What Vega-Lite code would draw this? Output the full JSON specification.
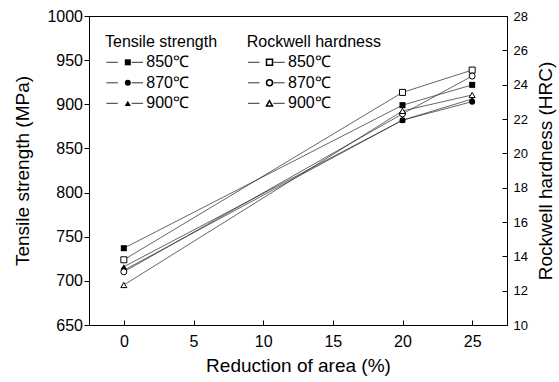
{
  "$schema": "https://vega.github.io/schema/vega-lite/v6.json",
  "width": 418,
  "height": 309,
  "autosize": {"type": "none"},
  "padding": {"left": 89, "top": 16, "right": 52, "bottom": 57},
  "background": "white",
  "config": {
    "font": "Liberation Sans",
    "view": {"stroke": "#000", "strokeWidth": 1},
    "axis": {
      "grid": false,
      "domainColor": "#000",
      "tickColor": "#000",
      "labelColor": "#000",
      "titleColor": "#000",
      "labelFont": "Liberation Sans",
      "titleFont": "Liberation Sans",
      "titleFontWeight": "normal",
      "labelFontSize": 16,
      "titleFontSize": 19,
      "tickSize": 5
    },
    "legend": {
      "orient": "none",
      "padding": 0,
      "titleFont": "Liberation Sans",
      "labelFont": "Liberation Sans",
      "titleFontSize": 16,
      "labelFontSize": 16,
      "titleFontWeight": "normal",
      "titleColor": "#000",
      "labelColor": "#000",
      "titlePadding": 4.6,
      "rowPadding": 4.5,
      "symbolSize": 36,
      "symbolOffset": 14.8,
      "labelOffset": 10.5
    }
  },
  "datasets": {
    "tensile": [
      {"reduction": 0, "temperature": "850℃", "strength": 737},
      {"reduction": 20, "temperature": "850℃", "strength": 899},
      {"reduction": 25, "temperature": "850℃", "strength": 922},
      {"reduction": 0, "temperature": "870℃", "strength": 712},
      {"reduction": 20, "temperature": "870℃", "strength": 882},
      {"reduction": 25, "temperature": "870℃", "strength": 903},
      {"reduction": 0, "temperature": "900℃", "strength": 716},
      {"reduction": 20, "temperature": "900℃", "strength": 882},
      {"reduction": 25, "temperature": "900℃", "strength": 906}
    ],
    "hardness": [
      {"reduction": 0, "temperature": "850℃", "hrc": 13.8},
      {"reduction": 20, "temperature": "850℃", "hrc": 23.55},
      {"reduction": 25, "temperature": "850℃", "hrc": 24.85},
      {"reduction": 0, "temperature": "870℃", "hrc": 13.1},
      {"reduction": 20, "temperature": "870℃", "hrc": 22.3},
      {"reduction": 25, "temperature": "870℃", "hrc": 24.5},
      {"reduction": 0, "temperature": "900℃", "hrc": 12.33},
      {"reduction": 20, "temperature": "900℃", "hrc": 22.47},
      {"reduction": 25, "temperature": "900℃", "hrc": 23.4}
    ]
  },
  "layer": [
    {
      "data": {"name": "tensile"},
      "encoding": {
        "x": {
          "field": "reduction",
          "type": "quantitative",
          "scale": {"domain": [-2.5, 27.5], "nice": false, "zero": false},
          "axis": {
            "values": [0, 5, 10, 15, 20, 25],
            "title": "Reduction of area (%)",
            "tickSize": -5,
            "labelPadding": 13,
            "titleX": 209,
            "titleY": 40,
            "titleBaseline": "middle",
            "titleAlign": "center"
          }
        },
        "y": {
          "field": "strength",
          "type": "quantitative",
          "scale": {"domain": [650, 1000], "nice": false, "zero": false},
          "axis": {
            "orient": "left",
            "values": [650, 700, 750, 800, 850, 900, 950, 1000],
            "format": "d",
            "title": "Tensile strength (MPa)",
            "labelPadding": 1.5,
            "titleAngle": -90,
            "titleX": -67,
            "titleY": 154.5,
            "titleBaseline": "middle",
            "titleAlign": "center"
          }
        }
      },
      "layer": [
        {
          "mark": {"type": "line", "strokeWidth": 0.75},
          "encoding": {
            "color": {
              "field": "temperature",
              "type": "nominal",
              "scale": {"domain": ["850℃", "870℃", "900℃"], "range": ["#333", "#333", "#333"]},
              "legend": {
                "title": " ",
                "titleColor": "transparent",
                "labelColor": "transparent",
                "labelExpr": "' '",
                "labelOffset": 0,
                "symbolType": "M-6.1,0H-2.3M2.3,0H6.1",
                "symbolStrokeWidth": 1,
                "symbolOffset": 11.7,
                "legendX": 16,
                "legendY": 17.7
              }
            }
          }
        },
        {
          "mark": {"type": "point", "filled": true, "color": "#000", "size": 36, "opacity": 1},
          "encoding": {
            "shape": {
              "field": "temperature",
              "type": "nominal",
              "scale": {"range": ["square", "circle", "triangle-up"]},
              "legend": {
                "title": "Tensile strength",
                "legendX": 16,
                "legendY": 17.7
              }
            }
          }
        }
      ]
    },
    {
      "data": {"name": "hardness"},
      "encoding": {
        "x": {
          "field": "reduction",
          "type": "quantitative",
          "scale": {"domain": [-2.5, 27.5], "nice": false, "zero": false},
          "axis": {
            "values": [0, 5, 10, 15, 20, 25],
            "title": "Reduction of area (%)",
            "tickSize": -5,
            "labelPadding": 13,
            "titleX": 209,
            "titleY": 40,
            "titleBaseline": "middle",
            "titleAlign": "center"
          }
        },
        "y": {
          "field": "hrc",
          "type": "quantitative",
          "scale": {"domain": [10, 28], "nice": false, "zero": false},
          "axis": {
            "orient": "right",
            "values": [10, 12, 14, 16, 18, 20, 22, 24, 26, 28],
            "title": "Rockwell hardness (HRC)",
            "labelFontSize": 13,
            "tickSize": -5,
            "labelPadding": 11,
            "titleAngle": -90,
            "titleX": 38,
            "titleY": 154.5,
            "titleBaseline": "middle",
            "titleAlign": "center"
          }
        }
      },
      "layer": [
        {
          "mark": {"type": "line", "strokeWidth": 0.75},
          "encoding": {
            "color": {
              "field": "temperature",
              "type": "nominal",
              "scale": {"domain": ["850℃", "870℃", "900℃"], "range": ["#333", "#333", "#333"]},
              "legend": {
                "title": " ",
                "titleColor": "transparent",
                "labelColor": "transparent",
                "labelExpr": "' '",
                "labelOffset": 0,
                "symbolType": "M-6.1,0H-2.3M2.3,0H6.1",
                "symbolStrokeWidth": 1,
                "symbolOffset": 11.7,
                "legendX": 157.7,
                "legendY": 17.7
              }
            }
          }
        },
        {
          "mark": {"type": "point", "filled": false, "fill": "#fff", "stroke": "#000", "strokeWidth": 1, "size": 36, "opacity": 1},
          "encoding": {
            "shape": {
              "field": "temperature",
              "type": "nominal",
              "scale": {"range": ["square", "circle", "triangle-up"]},
              "legend": {
                "title": "Rockwell hardness",
                "legendX": 157.7,
                "legendY": 17.7
              }
            }
          }
        }
      ]
    }
  ],
  "resolve": {"scale": {"y": "independent", "shape": "independent", "color": "independent"}}
}
